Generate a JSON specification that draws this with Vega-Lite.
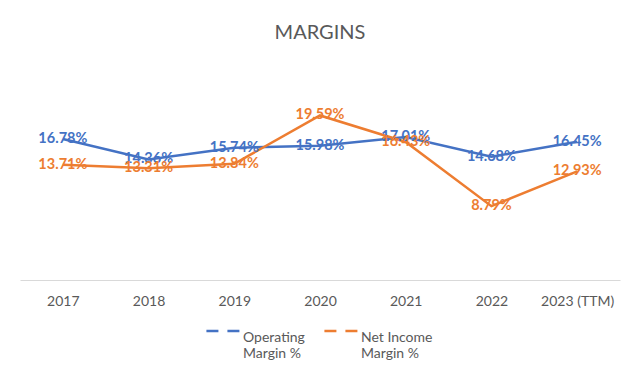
{
  "$schema": "https://vega.github.io/schema/vega-lite/v6.json",
  "width": 600,
  "height": 210,
  "autosize": "none",
  "padding": {"left": 20, "top": 70, "right": 20, "bottom": 105},
  "background": "white",
  "title": {"text": "MARGINS", "fontSize": 20, "font": "Lato", "fontWeight": "normal", "color": "#595959", "offset": 27, "anchor": "middle"},
  "data": {"values": [
    {"year": "2017", "series": "Operating Margin %", "value": 0.1678},
    {"year": "2018", "series": "Operating Margin %", "value": 0.1436},
    {"year": "2019", "series": "Operating Margin %", "value": 0.1574},
    {"year": "2020", "series": "Operating Margin %", "value": 0.1598},
    {"year": "2021", "series": "Operating Margin %", "value": 0.1701},
    {"year": "2022", "series": "Operating Margin %", "value": 0.1468},
    {"year": "2023 (TTM)", "series": "Operating Margin %", "value": 0.1645},
    {"year": "2017", "series": "Net Income Margin %", "value": 0.1371},
    {"year": "2018", "series": "Net Income Margin %", "value": 0.1331},
    {"year": "2019", "series": "Net Income Margin %", "value": 0.1384},
    {"year": "2020", "series": "Net Income Margin %", "value": 0.1959},
    {"year": "2021", "series": "Net Income Margin %", "value": 0.1643},
    {"year": "2022", "series": "Net Income Margin %", "value": 0.0879},
    {"year": "2023 (TTM)", "series": "Net Income Margin %", "value": 0.1293}
  ]},
  "encoding": {
    "x": {"field": "year", "type": "ordinal", "sort": null, "scale": {"type": "point", "padding": 0.5},
      "axis": {"title": null, "labelAngle": 0, "ticks": false, "domainColor": "#d9d9d9", "domainWidth": 1, "labelFont": "Lato", "labelFontSize": 14, "labelColor": "#595959", "labelPadding": 14, "grid": false}},
    "y": {"field": "value", "type": "quantitative", "scale": {"domain": [0, 0.25], "nice": false}, "axis": null},
    "color": {"field": "series", "type": "nominal", "sort": ["Operating Margin %", "Net Income Margin %"],
      "scale": {"domain": ["Operating Margin %", "Net Income Margin %"], "range": ["#4472C4", "#ED7D31"]},
      "legend": {"title": null, "orient": "none", "legendX": 185, "legendY": 243, "direction": "horizontal",
        "symbolType": "stroke", "symbolStrokeWidth": 2.5, "symbolDash": [12, 9], "symbolSize": 1100,
        "labelFont": "Lato", "labelFontSize": 14, "labelColor": "#595959", "labelOffset": 2, "columnPadding": 14,
        "labelExpr": "datum.label == 'Operating Margin %' ? ['Operating', 'Margin %'] : ['Net Income', 'Margin %']",
        "labelBaseline": "top", "symbolOffset": 0}}
  },
  "layer": [
    {"mark": {"type": "line", "strokeWidth": 2.5}},
    {"mark": {"type": "text", "font": "Lato", "fontSize": 14.5, "fontWeight": "bold"},
      "encoding": {"text": {"field": "value", "type": "quantitative", "format": ".2%"}}}
  ],
  "config": {"view": {"stroke": null}}
}
